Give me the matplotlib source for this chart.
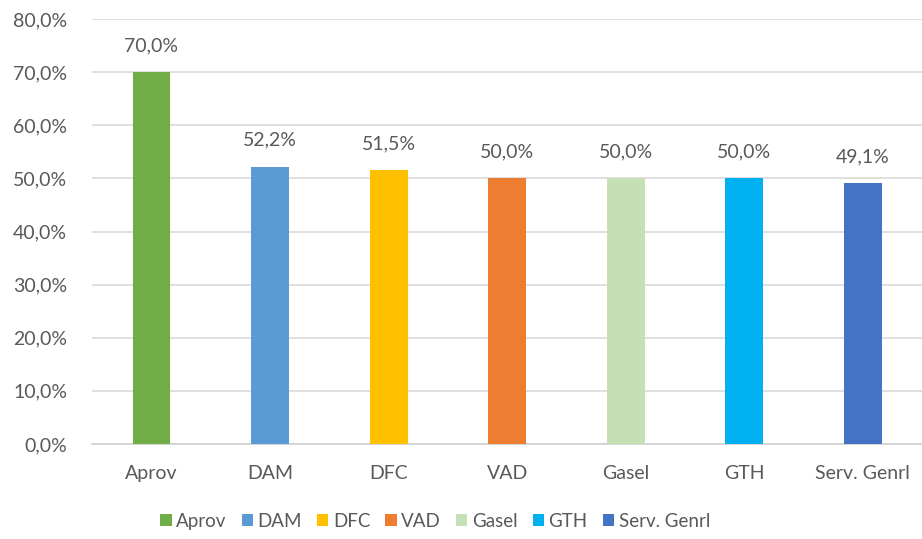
import matplotlib
matplotlib.use("Agg")
import matplotlib.pyplot as plt
from matplotlib.patches import Patch

categories = ["Aprov", "DAM", "DFC", "VAD", "Gasel", "GTH", "Serv. Genrl"]
values = [70.0, 52.2, 51.5, 50.0, 50.0, 50.0, 49.1]
colors = ["#70AD47", "#5B9BD5", "#FFC000", "#ED7D31", "#C5E0B4", "#00B0F0", "#4472C4"]
yticks = [0, 10, 20, 30, 40, 50, 60, 70, 80]

plt.rcParams['font.family'] = ['Lato', 'DejaVu Sans']
txt = "#595959"
fs = 14

fig = plt.figure(figsize=(9.22, 5.39), dpi=100)
ax = fig.add_axes([0.100, 0.1763, 0.900, 0.7884])
x = range(len(categories))
ax.bar(x, values, width=0.32, color=colors, zorder=3)
for xi, v in zip(x, values):
    ax.text(xi, v + 5.0, f"{v:.1f}%".replace(".", ","), ha="center", va="center",
            fontsize=fs, color=txt)
ax.set_xlim(-0.5, len(categories) - 0.5)
ax.set_ylim(0, 80)
ax.set_yticks(yticks)
ax.set_yticklabels([f"{t:.1f}%".replace(".", ",") for t in yticks], fontsize=fs, color=txt)
ax.set_xticks(list(x))
ax.set_xticklabels(categories, fontsize=fs, color=txt)
ax.tick_params(axis='both', length=0)
ax.tick_params(axis='x', pad=15)
ax.tick_params(axis='y', pad=18)
ax.grid(axis='y', color="#D9D9D9", linewidth=1.2, zorder=0)
for s in ["top", "right", "left"]:
    ax.spines[s].set_visible(False)
ax.spines["bottom"].set_color("#D0D0D0")
ax.spines["bottom"].set_linewidth(1.2)

handles = [Patch(facecolor=c, label=l) for c, l in zip(colors, categories)]
fig.legend(handles=handles, loc="center", bbox_to_anchor=(0.472, 0.033), ncol=7,
           frameon=False, fontsize=13.5, handlelength=0.6, handleheight=0.6,
           handletextpad=0.25, columnspacing=0.8, labelcolor=txt)
fig.savefig("out.png", dpi=100)
